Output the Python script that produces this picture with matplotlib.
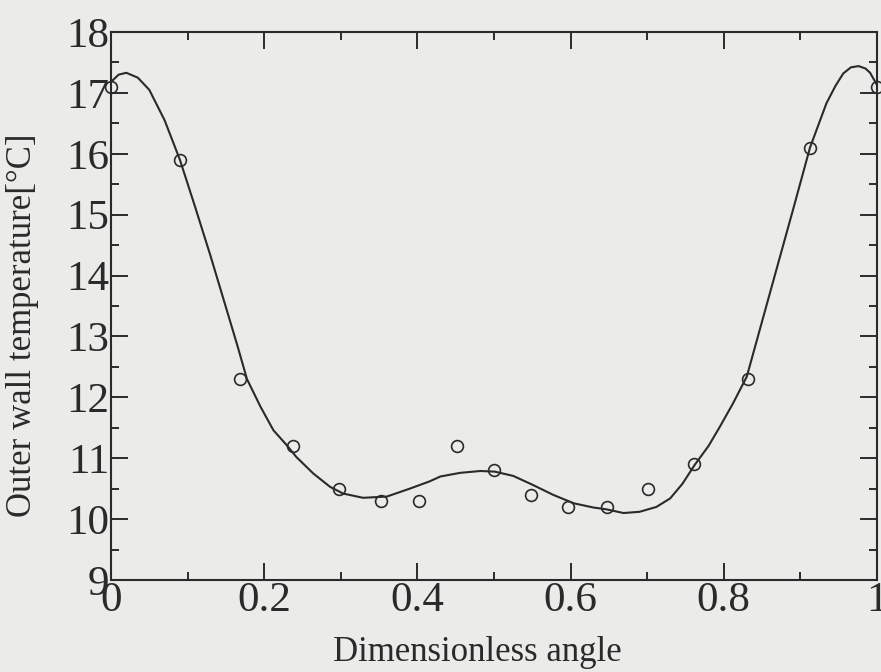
import matplotlib
matplotlib.use("Agg")
import matplotlib.pyplot as plt
from matplotlib.ticker import MultipleLocator

# measured data points
angle = [0.0, 0.090, 0.168, 0.238, 0.298, 0.352, 0.402, 0.452, 0.500,
         0.548, 0.597, 0.647, 0.701, 0.761, 0.832, 0.912, 1.0]
temp = [17.1, 15.9, 12.3, 11.2, 10.5, 10.3, 10.3, 11.2, 10.8,
        10.4, 10.2, 10.2, 10.5, 10.9, 12.3, 16.1, 17.1]

# fitted curve
curve_x = [0.0, 0.01, 0.02, 0.035, 0.05, 0.07, 0.09, 0.11, 0.13, 0.15,
           0.165, 0.1775, 0.195, 0.212, 0.229, 0.242, 0.264, 0.286, 0.303,
           0.329, 0.36, 0.39, 0.416, 0.43, 0.456, 0.482, 0.501, 0.525,
           0.551, 0.577, 0.604, 0.63, 0.647, 0.669, 0.69, 0.712, 0.73,
           0.746, 0.762, 0.78, 0.795, 0.812, 0.83, 0.865, 0.891, 0.9125,
           0.934, 0.946, 0.956, 0.966, 0.976, 0.985, 0.991, 1.0]
curve_y = [17.18, 17.3, 17.33, 17.25, 17.05, 16.55, 15.90, 15.12, 14.32,
           13.48, 12.85, 12.3, 11.85, 11.46, 11.22, 11.02, 10.75, 10.53,
           10.42, 10.35, 10.37, 10.5, 10.62, 10.70, 10.76, 10.79, 10.78,
           10.71, 10.56, 10.40, 10.26, 10.19, 10.16, 10.10, 10.12, 10.2,
           10.34, 10.58, 10.89, 11.2, 11.52, 11.9, 12.34, 13.93, 15.11,
           16.1, 16.83, 17.12, 17.32, 17.42, 17.44, 17.4, 17.33, 17.13]

bg = "#ebebe9"
ink = "#2a2a2a"
plt.rcParams["font.family"] = ["Liberation Serif", "DejaVu Serif"]

fig = plt.figure(figsize=(8.81, 6.72), dpi=100, facecolor=bg)
ax = fig.add_axes([111 / 881, 1 - 580 / 672, 766 / 881, 548 / 672])
ax.set_facecolor(bg)

ax.plot(curve_x, curve_y, color=ink, lw=1.5, zorder=2)
ax.plot(angle, temp, linestyle="none", marker="o", ms=8.5, mfc="none",
        mec=ink, mew=1.2, zorder=3, clip_on=False)

ax.set_xlim(0, 1)
ax.set_ylim(9, 18)
ax.set_xticks([0, 0.2, 0.4, 0.6, 0.8, 1.0])
ax.set_xticklabels(["0", "0.2", "0.4", "0.6", "0.8", "1"])
ax.xaxis.set_minor_locator(MultipleLocator(0.1))
ax.yaxis.set_major_locator(MultipleLocator(1))
ax.yaxis.set_minor_locator(MultipleLocator(0.5))

ax.tick_params(which="both", direction="in", top=True, right=True,
               color=ink, width=1.4)
ax.tick_params(which="major", length=12, labelsize=31, pad=1,
               labelcolor=ink)
ax.tick_params(which="minor", length=6)
for s in ax.spines.values():
    s.set_linewidth(1.5)
    s.set_color(ink)

ax.set_xlabel("Dimensionless angle", fontsize=25, color=ink)
ax.set_ylabel("Outer wall temperature[°C]", fontsize=25, color=ink)
ax.xaxis.set_label_coords(0.478, -0.103)
ax.yaxis.set_label_coords(-0.094, 0.465)

fig.savefig("out.png", dpi=100, facecolor=bg)
